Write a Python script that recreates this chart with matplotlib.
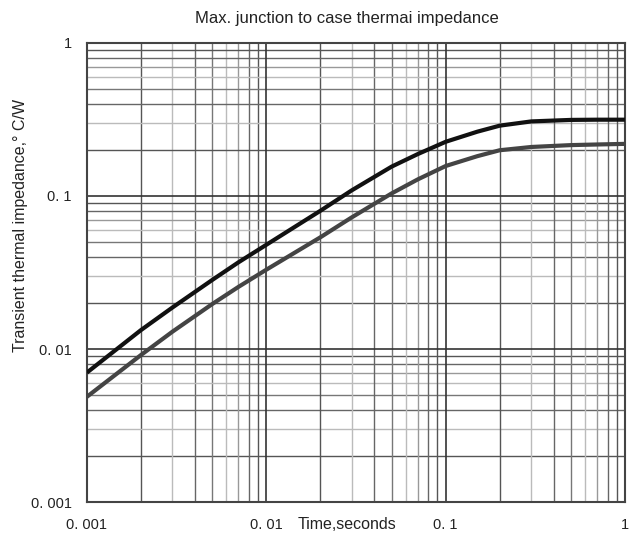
import numpy as np
import matplotlib.pyplot as plt

plt.rcParams['font.family'] = ['Liberation Sans', 'DejaVu Sans']

# time (s) and transient thermal impedance (C/W) for the two curves
t = [0.001, 0.002, 0.003, 0.005, 0.007, 0.01, 0.02, 0.03, 0.05, 0.07,
     0.1, 0.15, 0.2, 0.3, 0.5, 0.7, 1.0]
z_upper = [0.00702, 0.0133, 0.0187, 0.0283, 0.0369, 0.0480, 0.0800, 0.109,
           0.1556, 0.188, 0.226, 0.263, 0.288, 0.307, 0.314, 0.315, 0.315]
z_lower = [0.00488, 0.00914, 0.0130, 0.0197, 0.0255, 0.0330, 0.0537, 0.0726,
           0.104, 0.1285, 0.157, 0.182, 0.199, 0.209, 0.215, 0.217, 0.219]

tick_vals = [0.001, 0.01, 0.1, 1]
tick_text = ['0. 001', '0. 01', '0. 1', '1']

fig = plt.figure(figsize=(6.34, 5.36), dpi=100)
ax = fig.add_axes([0.137, 0.063, 0.849, 0.857])
ax.set_xscale('log')
ax.set_yscale('log')
ax.set_xlim(0.001, 1)
ax.set_ylim(0.001, 1)

# grid: shade varies a bit with the multiplier like on the printed sheet
minor_shade = {2: '#555555', 3: '#bbbbbb', 4: '#666666', 5: '#777777',
               6: '#bbbbbb', 7: '#999999', 8: '#666666', 9: '#555555'}
for dec in [0.001, 0.01, 0.1]:
    for m in range(2, 10):
        ax.axvline(dec * m, color=minor_shade[m], lw=1.0, zorder=1)
        ax.axhline(dec * m, color=minor_shade[m], lw=1.0, zorder=1)
for v in [0.01, 0.1]:
    ax.axvline(v, color='#333333', lw=1.2, zorder=1)
    ax.axhline(v, color='#333333', lw=1.2, zorder=1)

ax.plot(t, z_upper, color='#111111', lw=3.0, zorder=3, solid_capstyle='butt')
ax.plot(t, z_lower, color='#444444', lw=3.0, zorder=3, solid_capstyle='butt')

ax.set_xticks(tick_vals)
ax.set_xticklabels(tick_text)
ax.set_yticks(tick_vals)
ax.set_yticklabels(tick_text)
ax.minorticks_off()
ax.tick_params(axis='both', length=0, labelsize=10.5, colors='#222222')
ax.tick_params(axis='x', pad=11)
ax.tick_params(axis='y', pad=11)
for s in ax.spines.values():
    s.set_color('#444444')
    s.set_linewidth(1.5)

fig.text(0.547, 0.965, 'Max. junction to case thermai impedance',
         ha='center', va='center', fontsize=12, color='#222222')
fig.text(0.547, 0.022, 'Time,seconds', ha='center', va='center',
         fontsize=11.5, color='#222222')
fig.text(0.032, 0.58, 'Transient thermal impedance,° C/W', ha='center',
         va='center', rotation=90, fontsize=11.5, color='#222222')

fig.savefig('out.png', dpi=100)
